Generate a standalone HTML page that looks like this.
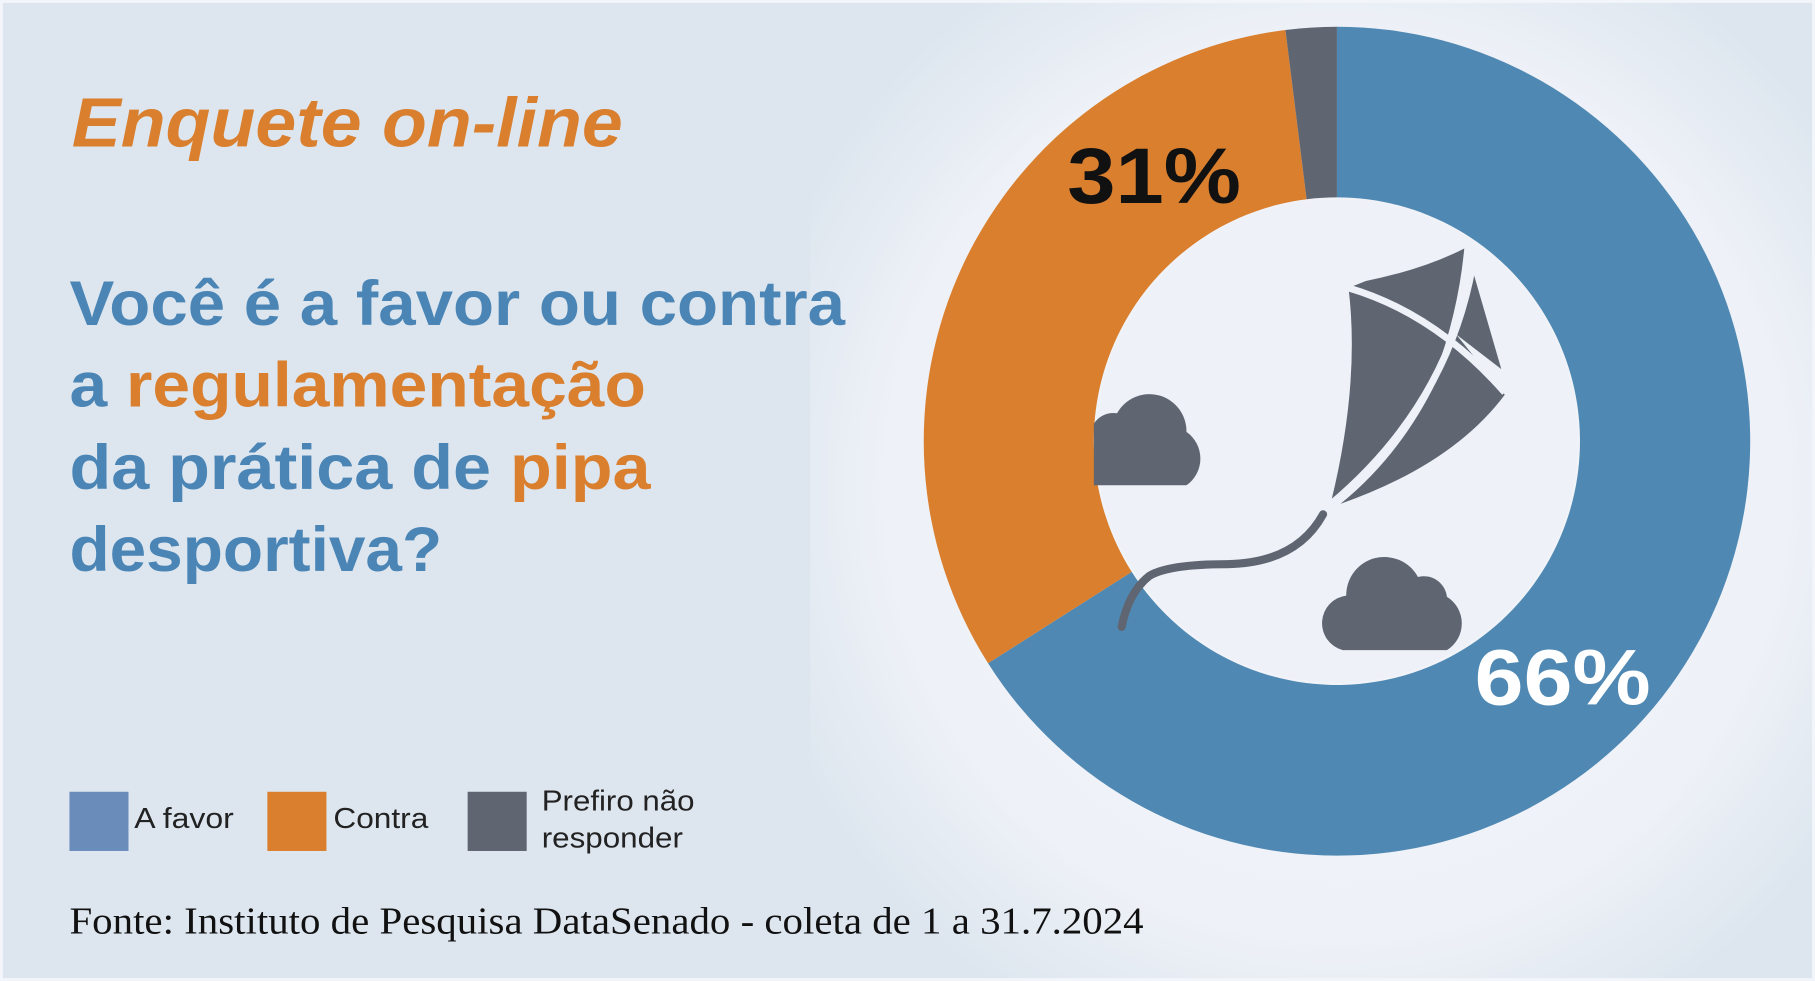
<!DOCTYPE html>
<html><head><meta charset="utf-8"><style>
html,body{margin:0;padding:0;background:#dde6ef}
svg{display:block}
</style></head><body>
<svg width="1815" height="981" viewBox="0 0 1568 845" preserveAspectRatio="none" xmlns="http://www.w3.org/2000/svg">
<defs>
<radialGradient id="g" cx="1155" cy="420" r="520" gradientUnits="userSpaceOnUse">
<stop offset="0" stop-color="#f3f5fa"/><stop offset="0.75" stop-color="#eef1f7"/><stop offset="1" stop-color="#dde6ef"/>
</radialGradient>
</defs>
<rect x="0" y="0" width="1568" height="845" fill="#dde6ef"/>
<rect x="700" y="0" width="868" height="845" fill="url(#g)"/>
<rect x="1" y="1" width="1566" height="843" fill="none" stroke="#f2f5f9" stroke-width="3"/>
<path d="M1155 23 A357 357 0 1 1 853.6 571.3 L977.7 492.6 A210 210 0 1 0 1155 170 Z" fill="#4f89b3"/>
<path d="M853.6 571.3 A357 357 0 0 1 1110.5 25.8 L1128.8 171.6 A210 210 0 0 0 977.7 492.6 Z" fill="#d97f2e"/>
<path d="M1110.5 25.8 A357 357 0 0 1 1155 23 L1155 170 A210 210 0 0 0 1128.8 171.6 Z" fill="#5f6672"/>
<circle cx="1155" cy="380" r="208" fill="#eef1f7"/>
<path d="M945 418 L1025 418 A28 28 0 0 0 1025 372 A32 32 0 0 0 965 356 A20 20 0 0 0 945 365 Z" fill="#5f6672"/>
<path d="M1160 560 L1250 560 A27 27 0 0 0 1250 514 A20 20 0 0 0 1225 497 A33 33 0 0 0 1163 513 A24 24 0 0 0 1160 560 Z" fill="#5f6672"/>
<path d="M1165 248 L1180 242 Q1230 232 1265 214 Q1260 268 1240 322 Q1200 396 1150 432 Q1175 330 1165 248 Z" fill="#5f6672"/>
<path d="M1272 232 L1297 318 L1258 288 Z" fill="#5f6672"/>
<path d="M1258 288 L1300 340 Q1255 400 1158 434 Q1225 380 1258 288 Z" fill="#5f6672"/>
<path d="M1165 248 Q1240 270 1300 338" fill="none" stroke="#eef1f7" stroke-width="6"/>
<path d="M1272 230 Q1250 350 1150 434" fill="none" stroke="#eef1f7" stroke-width="6"/>
<path d="M1143 443 Q1120 485 1060 486 Q1010 486 993 496 Q975 510 969 540" fill="none" stroke="#5f6672" stroke-width="7" stroke-linecap="round"/>
<text x="922" y="175" textLength="150" lengthAdjust="spacingAndGlyphs" font-family="Liberation Sans, sans-serif" font-weight="bold" font-size="68" fill="#111">31%</text>
<text x="1274" y="607" textLength="152" lengthAdjust="spacingAndGlyphs" font-family="Liberation Sans, sans-serif" font-weight="bold" font-size="68" fill="#fff">66%</text>
<g font-family="Liberation Sans, sans-serif">
<text x="62" y="126" textLength="476" lengthAdjust="spacingAndGlyphs" font-style="italic" font-weight="bold" font-size="60" fill="#d97f2e">Enquete on-line</text>
<g font-weight="bold" font-size="54" fill="#4a85b5">
<text x="60" y="280" textLength="670" lengthAdjust="spacingAndGlyphs">Você é a favor ou contra</text>
<text x="60" y="350" textLength="498" lengthAdjust="spacingAndGlyphs">a <tspan fill="#d97f2e">regulamentação</tspan></text>
<text x="60" y="421" textLength="502" lengthAdjust="spacingAndGlyphs">da prática de <tspan fill="#d97f2e">pipa</tspan></text>
<text x="60" y="492" textLength="322" lengthAdjust="spacingAndGlyphs">desportiva?</text>
</g>
<rect x="60" y="682" width="51" height="51" fill="#6a8cbb"/>
<rect x="231" y="682" width="51" height="51" fill="#d97f2e"/>
<rect x="404" y="682" width="51" height="51" fill="#5f6672"/>
<g font-size="25" fill="#222">
<text x="116" y="713" textLength="86" lengthAdjust="spacingAndGlyphs">A favor</text>
<text x="288" y="713" textLength="82" lengthAdjust="spacingAndGlyphs">Contra</text>
<text x="468" y="698" textLength="132" lengthAdjust="spacingAndGlyphs">Prefiro não</text>
<text x="468" y="730" textLength="122" lengthAdjust="spacingAndGlyphs">responder</text>
</g>
</g>
<text x="60" y="804" textLength="928" lengthAdjust="spacingAndGlyphs" font-family="Liberation Serif, serif" font-size="33" fill="#111">Fonte: Instituto de Pesquisa DataSenado - coleta de 1 a 31.7.2024</text>
</svg>
</body></html>
